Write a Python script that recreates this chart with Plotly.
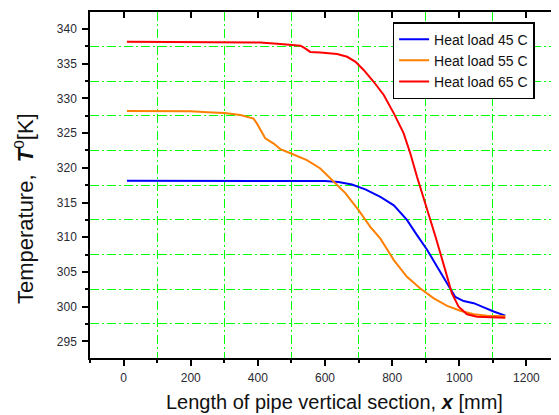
import plotly.graph_objects as go

# Data
x_45 = [10, 100, 200, 300, 400, 500, 600, 640, 680, 720, 765, 805, 844, 874, 904, 934, 964, 988, 1013, 1043, 1073, 1102, 1137]
t_45 = [318.15, 318.15, 318.15, 318.15, 318.15, 318.15, 318.1, 317.95, 317.6, 316.9, 315.8, 314.6, 312.5, 310.3, 308.2, 305.75, 303.35, 301.4, 300.8, 300.5, 299.9, 299.3, 298.7]

x_55 = [10, 100, 200, 250, 300, 348, 387, 397, 412, 422, 447, 467, 497, 546, 586, 621, 660, 700, 735, 765, 805, 844, 884, 924, 964, 1003, 1043, 1083, 1137]
t_55 = [328.2, 328.2, 328.15, 328.0, 327.9, 327.6, 327.1, 326.4, 325.0, 324.25, 323.5, 322.7, 322.1, 321.1, 319.9, 318.2, 316.4, 313.9, 311.5, 309.8, 306.7, 304.3, 302.6, 301.2, 300.1, 299.4, 298.9, 298.7, 298.6]

x_65 = [10, 100, 200, 300, 407, 467, 527, 541, 556, 586, 636, 666, 690, 715, 745, 775, 805, 834, 854, 874, 899, 929, 958, 978, 998, 1023, 1053, 1137]
t_65 = [338.15, 338.15, 338.15, 338.12, 338.05, 337.85, 337.6, 337.2, 336.7, 336.6, 336.4, 336.0, 335.3, 334.1, 332.4, 330.5, 327.85, 325.0, 322.1, 318.7, 314.9, 310.1, 305.3, 301.9, 300.0, 298.9, 298.55, 298.4]

series_names = ["Heat load 45 C", "Heat load 55 C", "Heat load 65 C"]
series_colors = ["#0000FF", "#FF8000", "#FF0000"]

x_title = "Length of pipe vertical section, <b><i>x</i></b> [mm]"
y_title = "Temperature,  <b><i>T</i></b><sup>0</sup>[K]"

X_RANGE = [-100, 1294]
Y_RANGE = [292.6, 342.45]

FONT = "Liberation Sans, Arial, sans-serif"
TICK_COLOR = "#2a2a33"
GRID_COLOR = "#00FF00"
GRID_DASH = "9px,3px,2px,3px"

fig = go.Figure()
for xs, ts, name, col in zip([x_45, x_55, x_65], [t_45, t_55, t_65], series_names, series_colors):
    fig.add_trace(go.Scatter(x=xs, y=ts, mode="lines", name=name,
                             line=dict(color=col, width=2)))

# helper traces: mirrored top/right axes (inward ticks) and grid-only axes
fig.add_trace(go.Scatter(x=[None], y=[None], xaxis="x2", yaxis="y2",
                         showlegend=False, hoverinfo="skip"))
fig.add_trace(go.Scatter(x=[None], y=[None], xaxis="x3", yaxis="y3",
                         showlegend=False, hoverinfo="skip"))

common = dict(zeroline=False, showline=True, linecolor="black", linewidth=1.5,
              tickwidth=1.5, tickcolor="black")

fig.update_layout(
    # page body has an 8px default margin, so the figure is 8px smaller
    width=551, height=407,
    margin=dict(l=82, r=1, t=4, b=57),
    paper_bgcolor="white", plot_bgcolor="white",
    font=dict(family=FONT, color="#000000"),
    xaxis=dict(
        range=X_RANGE, tick0=0, dtick=200, showgrid=False,
        ticks="outside", ticklen=6, ticklabelstandoff=2,
        tickfont=dict(size=12, color=TICK_COLOR, family=FONT),
        minor=dict(tick0=100, dtick=100, ticks="outside", ticklen=3,
                   tickcolor="black", showgrid=False),
        **common,
    ),
    yaxis=dict(
        range=Y_RANGE, tick0=295, dtick=5, showgrid=False,
        ticks="outside", ticklen=6, ticklabelstandoff=3,
        tickfont=dict(size=12, color=TICK_COLOR, family=FONT),
        minor=dict(tick0=297.5, dtick=2.5, ticks="outside", ticklen=3,
                   tickcolor="black", showgrid=False),
        **common,
    ),
    xaxis2=dict(
        range=X_RANGE, overlaying="x", side="top", anchor="y2", tick0=0, dtick=200,
        showgrid=False, ticks="inside", ticklen=6, showticklabels=False, **common,
    ),
    yaxis2=dict(
        range=Y_RANGE, overlaying="y", side="right", anchor="x2", tick0=295, dtick=5,
        showgrid=False, ticks="inside", ticklen=6, showticklabels=False, **common,
    ),
    xaxis3=dict(
        range=X_RANGE, overlaying="x", anchor="y3", tick0=100, dtick=200,
        showgrid=True, gridcolor=GRID_COLOR, griddash=GRID_DASH, gridwidth=1,
        showline=False, zeroline=False, ticks="", showticklabels=False,
    ),
    yaxis3=dict(
        range=Y_RANGE, overlaying="y", anchor="x3", tick0=297.5, dtick=5,
        showgrid=True, gridcolor=GRID_COLOR, griddash=GRID_DASH, gridwidth=1,
        showline=False, zeroline=False, ticks="", showticklabels=False,
    ),
    legend=dict(
        x=0.95, y=0.971, xanchor="right", yanchor="top",
        bgcolor="white", bordercolor="black", borderwidth=1.5,
        font=dict(size=14, color="#111111", family=FONT),
        tracegroupgap=0, itemwidth=30,
    ),
    annotations=[
        dict(text=x_title, xref="paper", yref="paper", x=0.522, y=-0.128,
             xanchor="center", yanchor="middle", showarrow=False,
             font=dict(size=20, color="#111111", family=FONT)),
        dict(text=y_title, xref="paper", yref="paper", x=-0.142, y=0.432,
             xanchor="center", yanchor="middle", showarrow=False, textangle=-90,
             font=dict(size=22, color="#111111", family=FONT)),
    ],
    showlegend=True,
)

fig.write_html("out.html")
